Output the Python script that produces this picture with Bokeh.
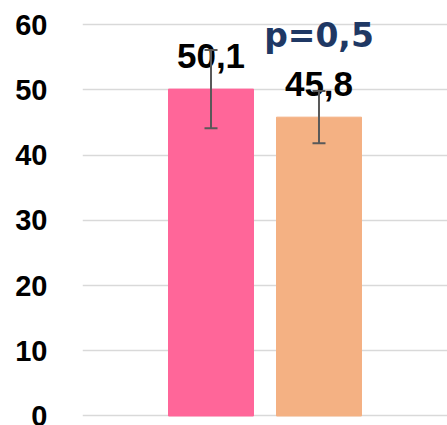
from bokeh.plotting import figure
from bokeh.models import ColumnDataSource, FactorRange, Range1d, FixedTicker, Whisker, TeeHead
from bokeh.core.properties import value
from bokeh.embed import file_html
from bokeh.resources import INLINE

# data
groups = ["Grupo 1", "Grupo 2"]
means = [50.1, 45.8]
errors = [6.0, 4.0]
labels = ["50,1", "45,8"]
colors = ["#FF6699", "#F4B183"]
y_ticks = [0, 10, 20, 30, 40, 50, 60]
p_label = "p=0,5"

lower = [m - e for m, e in zip(means, errors)]
upper = [m + e for m, e in zip(means, errors)]
src = ColumnDataSource(dict(g=groups, m=means, lo=lower, up=upper, lab=labels, c=colors))

p = figure(width=447, height=425, output_backend="svg", toolbar_location=None,
           x_range=FactorRange(factors=groups, range_padding=0.69),
           y_range=Range1d(-1.456, 63.68),
           min_border_left=82, min_border_right=0, min_border_top=0, min_border_bottom=0)

p.vbar(x="g", top="m", width=0.787, color="c", source=src)

p.text(x="g", y="m", text="lab", source=src, text_align="center", text_baseline="alphabetic",
       y_offset=-33, text_font=value("Liberation Sans"), text_font_style="bold",
       text_font_size="35px", text_color="#000000")

p.text(x=[groups[1]], y=[means[1]], text=[p_label], text_align="center", text_baseline="alphabetic",
       y_offset=-82, text_font=value("DejaVu Sans"), text_font_style="bold",
       text_font_size="33px", text_color="#1F3864")

w = Whisker(base="g", upper="up", lower="lo", source=src, line_color="#595959", line_width=2,
            level="overlay",
            upper_head=TeeHead(size=13, line_color="#595959", line_width=2),
            lower_head=TeeHead(size=13, line_color="#595959", line_width=2))
p.add_layout(w)

p.xaxis.visible = False
p.yaxis.ticker = FixedTicker(ticks=y_ticks)
p.yaxis.axis_line_color = None
p.yaxis.major_tick_line_color = None
p.yaxis.minor_tick_line_color = None
p.yaxis.major_label_standoff = 29
p.yaxis.major_label_text_font = "Liberation Sans"
p.yaxis.major_label_text_font_style = "bold"
p.yaxis.major_label_text_font_size = "29px"
p.yaxis.major_label_text_color = "#000000"

p.xgrid.visible = False
p.ygrid.grid_line_color = "#D9D9D9"
p.ygrid.grid_line_width = 1.5
p.outline_line_color = None
p.background_fill_color = "white"
p.border_fill_color = "white"

open("out.html", "w").write(file_html(p, INLINE))
